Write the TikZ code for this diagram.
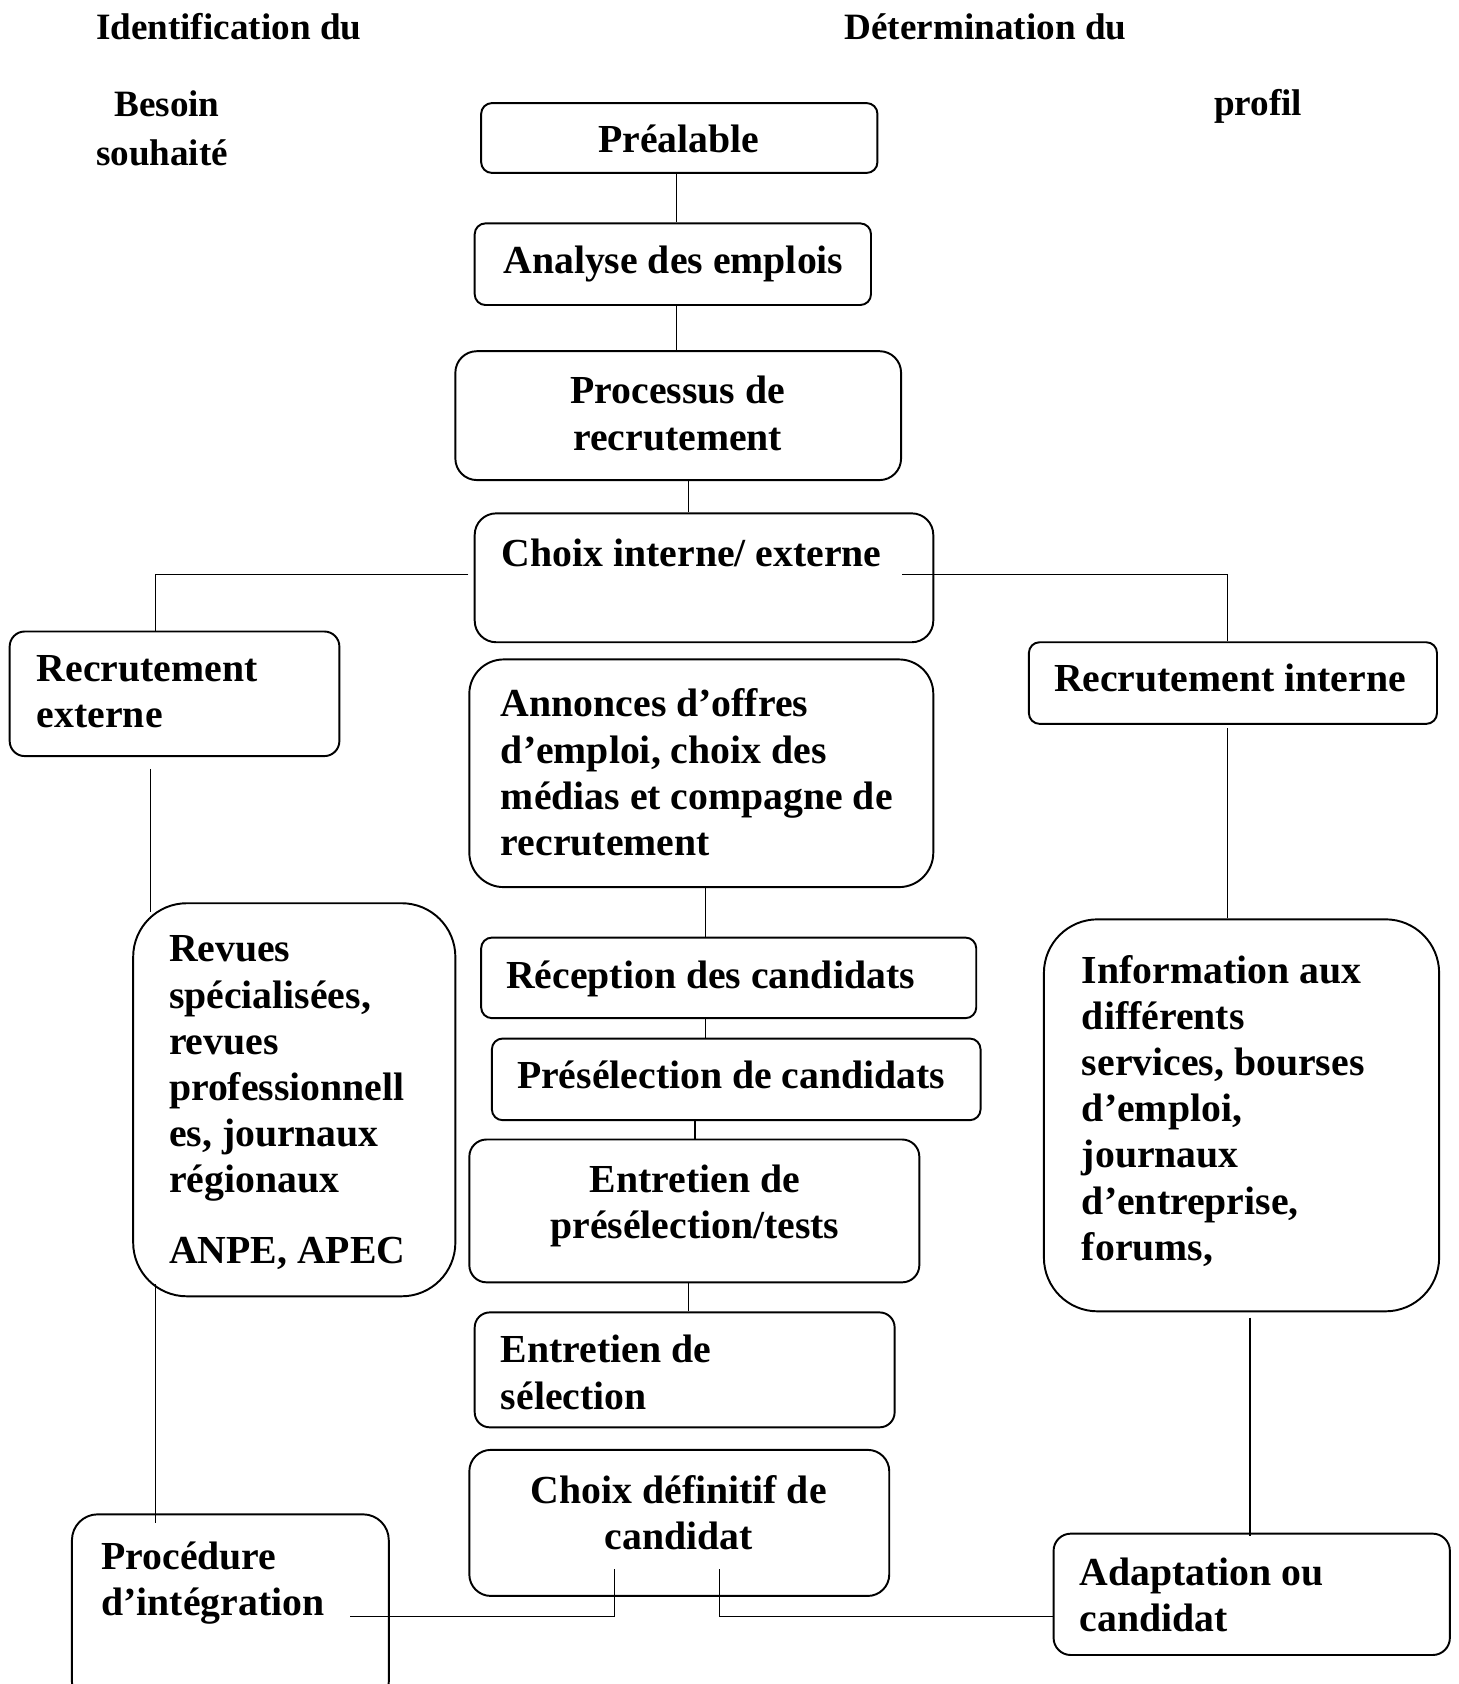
\documentclass[tikz,border=0pt]{standalone}
\usepackage{fontspec}
\setmainfont{Liberation Serif}
\usetikzlibrary{calc}
\begin{document}
\begin{tikzpicture}[x=0.5pt,y=-0.5pt,
  box/.style={draw, line width=0.9pt, rounded corners=#1, inner sep=0pt},
  box/.default=5pt,
  ln/.style={line width=0.6pt},
  t/.style={inner sep=0pt, yshift=-3pt, font=\fontsize{18.5}{21.5}\selectfont\bfseries, align=left, anchor=north west},
  tc/.style={t, align=center, anchor=north},
  hd/.style={inner sep=0pt, font=\fontsize{17.3}{20}\selectfont\bfseries, anchor=west}]
\useasboundingbox (0,0) rectangle (1358,1568);
\newcommand\bx[6]{\node[box=#6, minimum width={(#4-#2)*0.5pt}, minimum height={(#5-#3)*0.5pt}] (#1) at ({(#2+#4)/2},{(#3+#5)/2}) {};}

% headers
\node[hd] (h1) at (89,25) {Identification du};
\node[hd] (h2) at (106,97) {Besoin};
\node[hd] (h3) at (89,142) {souhaité};
\node[hd] (h4) at (786,25) {Détermination du};
\node[hd] (h5) at (1130,99) {profil};

% boxes
\bx{pre}{448}{96}{817}{161}{5pt}
\bx{ana}{442}{208}{811}{284}{5pt}
\bx{proc}{424}{327}{839}{447}{10pt}
\bx{choix}{442}{478}{869}{598}{10pt}
\bx{rext}{9}{588}{316}{704}{7pt}
\bx{ann}{437}{614}{869}{826}{16pt}
\bx{rint}{958}{598}{1338}{674}{5pt}
\bx{rev}{124}{841}{424}{1207}{25pt}
\bx{rec}{448}{873}{909}{948}{5pt}
\bx{presel}{458}{967}{913}{1043}{5pt}
\bx{ent}{437}{1061}{856}{1194}{8pt}
\bx{sel}{442}{1222}{833}{1329}{7pt}
\bx{def}{437}{1350}{828}{1486}{10pt}
\bx{integ}{67}{1410}{362}{1590}{12pt}
\bx{info}{972}{856}{1340}{1221}{25pt}
\bx{adapt}{981}{1428}{1350}{1541}{8pt}

% texts
\node[tc] (tpre) at (632,110) {Préalable};
\node[tc] (tana) at (627,223) {Analyse des emplois};
\node[tc] (tproc) at (631,344) {Processus de\\recrutement};
\node[t] (tchoix) at (467,495) {Choix interne/ externe};
\node[t] (trext) at (34,604) {Recrutement\\externe};
\node[t] (tann) at (466,635) {Annonces d’offres\\d’emploi, choix des\\médias et compagne de\\recrutement};
\node[t] (trint) at (981,612) {Recrutement interne};
\node[t] (trev) at (157,865) {Revues\\spécialisées,\\revues\\professionnell\\es, journaux\\régionaux};
\node[t] (tanpe) at (157,1146) {ANPE, APEC};
\node[t] (trec) at (471,888) {Réception des candidats};
\node[t] (tpresel) at (481,981) {Présélection de candidats};
\node[tc] (tent) at (647,1078) {Entretien de\\présélection/tests};
\node[t] (tsel) at (466,1237) {Entretien de\\sélection};
\node[tc] (tdef) at (632,1367) {Choix définitif de\\candidat};
\node[t] (tinteg) at (94,1429) {Procédure\\d’intégration};
\node[t] (tinfo) at (1007,883) {Information aux\\différents\\services, bourses\\d’emploi,\\journaux\\d’entreprise,\\forums,};
\node[t] (tadapt) at (1005,1444) {Adaptation ou\\candidat};

% connectors
\draw[ln] (pre.south -| 630,0) -- (ana.north -| 630,0);
\draw[ln] (ana.south -| 630,0) -- (proc.north -| 630,0);
\draw[ln] (proc.south -| 641,0) -- (choix.north -| 641,0);
\coordinate (cl) at (436,535);
\coordinate (cr) at (840,535);
\draw[ln] (cl) -| (rext.north -| 145,0);
\draw[ln] (cr) -| (rint.north -| 1143,0);
\draw[ln] ($(rext.south -| 140,0)+(0,11)$) -- ($(rev.north -| 140,0)+(0,9)$);
\draw[ln] ($(rev.south -| 145,0)+(0,-12)$) -- ($(integ.north -| 145,0)+(0,9)$);
\draw[ln] (ann.south -| 657,0) -- (rec.north -| 657,0);
\draw[ln] (rec.south -| 657,0) -- (presel.north -| 657,0);
\draw[ln] (presel.south -| 647,0) -- (ent.north -| 647,0);
\draw[ln] (ent.south -| 641,0) -- (sel.north -| 641,0);
\draw[ln] ($(rint.south -| 1143,0)+(0,3)$) -- (info.north -| 1143,0);
\draw[ln] ($(info.south -| 1164,0)+(0,5)$) -- ($(adapt.north -| 1164,0)+(0,3)$);
\coordinate (bl) at (326,1505);
\coordinate (bm1) at (572,1461);
\coordinate (bm2) at (670,1461);
\draw[ln] (bl) -| (bm1);
\draw[ln] (bm2) |- (adapt.west |- bl);
\end{tikzpicture}
\end{document}
